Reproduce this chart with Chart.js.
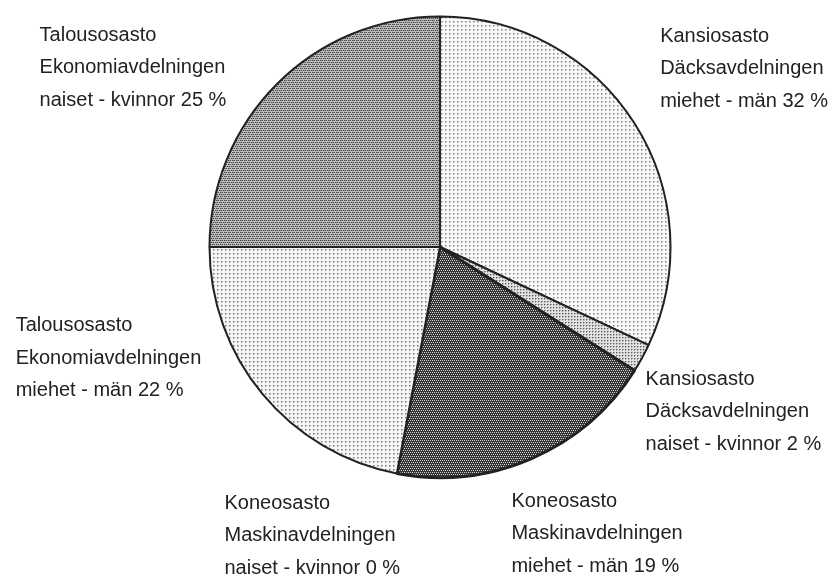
<!DOCTYPE html>
<html>
<head>
<meta charset="utf-8">
<script src="https://cdn.jsdelivr.net/npm/chart.js@4/dist/chart.umd.min.js"></script>
<style>
  html, body { margin: 0; padding: 0; background: #fff; }
  #wrap { width: 836px; height: 583px; }
</style>
</head>
<body>
<div id="wrap"><canvas id="pieChart" width="836" height="583"></canvas></div>
<script>
// slices clockwise from 12 o'clock
var osastoFi = ['Kansiosasto', 'Kansiosasto', 'Koneosasto', 'Koneosasto', 'Talousosasto', 'Talousosasto'];
var osastoSv = ['Däcksavdelningen', 'Däcksavdelningen', 'Maskinavdelningen', 'Maskinavdelningen', 'Ekonomiavdelningen', 'Ekonomiavdelningen'];
var sukupuoli = ['miehet - män', 'naiset - kvinnor', 'miehet - män', 'naiset - kvinnor', 'miehet - män', 'naiset - kvinnor'];
var osuus = [32, 2, 19, 0, 22, 25];

// halftone-like fills
function makePattern(size, bg, dots) {
    var c = document.createElement('canvas');
    c.width = size;
    c.height = size;
    var g = c.getContext('2d');
    g.fillStyle = bg;
    g.fillRect(0, 0, size, size);
    dots.forEach(function (d) {
        g.fillStyle = d[2];
        g.fillRect(d[0], d[1], 1, 1);
    });
    return g.createPattern(c, 'repeat');
}

var lightDots = makePattern(4, '#f9f9f9', [
    [1, 1, '#7e7e7e'], [2, 1, '#c4c4c4'], [1, 2, '#c4c4c4'], [2, 2, '#d2d2d2']
]);
var lightDots2 = makePattern(4, '#f6f6f6', [
    [1, 1, '#747474'], [2, 1, '#bcbcbc'], [1, 2, '#bcbcbc'], [2, 2, '#cccccc']
]);
var mediumDots = makePattern(3, '#e2e2e2', [
    [1, 1, '#5e5e5e'], [2, 1, '#a6a6a6'], [1, 2, '#a6a6a6']
]);
var darkChecker = makePattern(4, '#353535', [
    [0, 0, '#d8d8d8'], [2, 0, '#c4c4c4'], [1, 2, '#d8d8d8'], [3, 2, '#c4c4c4']
]);
var midChecker = makePattern(4, '#bcbcbc', [
    [0, 0, '#3e3e3e'], [2, 0, '#484848'], [1, 2, '#3e3e3e'], [3, 2, '#484848'],
    [1, 0, '#8a8a8a'], [0, 2, '#8a8a8a']
]);

var fills = [lightDots, mediumDots, darkChecker, darkChecker, lightDots2, midChecker];

// label anchors relative to pie centre, in radius units (first line centre, left edge)
var labelPos = [
    [0.955, -0.914],
    [0.892, 0.573],
    [0.310, 1.103],
    [-0.935, 1.112],
    [-1.841, 0.341],
    [-1.737, -0.918]
];

var pieLabels = {
    id: 'pieLabels',
    afterDraw: function (chart) {
        var arc = chart.getDatasetMeta(0).data[0];
        var cx = arc.x, cy = arc.y, r = arc.outerRadius;
        var ctx = chart.ctx;
        ctx.save();
        ctx.font = '20px "Liberation Sans", Arial, sans-serif';
        ctx.fillStyle = '#222222';
        ctx.textAlign = 'left';
        ctx.textBaseline = 'middle';
        for (var i = 0; i < osuus.length; i++) {
            var x = cx + labelPos[i][0] * r;
            var y = cy + labelPos[i][1] * r;
            ctx.fillText(osastoFi[i], x, y);
            ctx.fillText(osastoSv[i], x, y + 32.5);
            ctx.fillText(sukupuoli[i] + ' ' + osuus[i] + ' %', x, y + 65);
        }
        ctx.restore();
    }
};

var ctx = document.getElementById('pieChart').getContext('2d');
var pieChart = new Chart(ctx, {
    type: 'pie',
    data: {
        labels: osastoFi.map(function (o, i) { return o + ' ' + sukupuoli[i]; }),
        datasets: [{
            data: osuus,
            backgroundColor: fills,
            borderColor: '#222222',
            borderWidth: [2, 2, 3, 2, 2, 2]
        }]
    },
    options: {
        responsive: false,
        animation: false,
        events: [],
        layout: { padding: { top: 15, bottom: 104, left: 44, right: 0 } },
        plugins: {
            legend: { display: false },
            tooltip: { enabled: false }
        }
    },
    plugins: [pieLabels]
});
</script>
</body>
</html>
